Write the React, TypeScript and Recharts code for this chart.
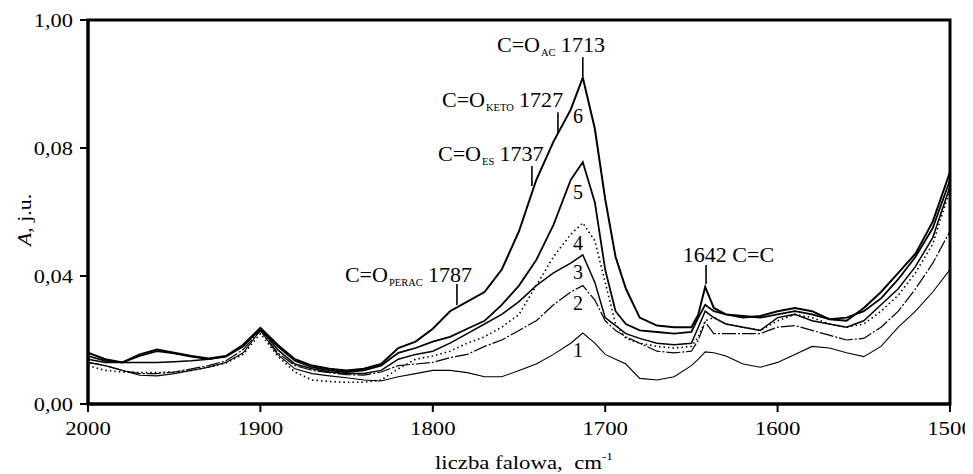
import React from 'react';
import {
  LineChart,
  Line,
  XAxis,
  YAxis,
  ReferenceArea,
  ReferenceLine,
  ReferenceDot,
  Customized,
} from 'recharts';

const SERIF = 'Liberation Serif, Times New Roman, Times, serif';

// wavenumber grid (cm^-1)
const wavenumbers = [
  2000, 1990, 1980, 1970, 1960, 1950, 1940, 1930, 1920, 1910,
  1900, 1890, 1880, 1870, 1860, 1850, 1840, 1830, 1820, 1810,
  1800, 1790, 1780, 1770, 1760, 1750, 1740, 1730, 1720,
  1713, 1706, 1700, 1694, 1688, 1680,
  1670, 1660, 1650,
  1646, 1642, 1637, 1630,
  1620, 1610, 1600, 1590, 1580, 1570, 1560, 1550, 1540, 1530, 1520, 1510, 1500,
];

const spectrum1 = [
  0.013, 0.012, 0.0105, 0.009, 0.0088, 0.0095, 0.0105, 0.0115, 0.013, 0.016,
  0.023, 0.0155, 0.011, 0.0095, 0.0088, 0.0082, 0.0075, 0.0072, 0.0085, 0.0095,
  0.0105, 0.0105, 0.0098, 0.0085, 0.0085, 0.0105, 0.0125, 0.0155, 0.019,
  0.0222, 0.019, 0.0155, 0.014, 0.0125, 0.008,
  0.0075, 0.0085, 0.012,
  0.014, 0.0163, 0.016, 0.015,
  0.0125, 0.0115, 0.013, 0.0155, 0.018, 0.0175, 0.016, 0.0148, 0.018, 0.024, 0.029, 0.035, 0.042,
];

const spectrum2 = [
  0.013, 0.012, 0.0105, 0.0095, 0.0095, 0.01, 0.011, 0.012, 0.0135, 0.017,
  0.023, 0.016, 0.012, 0.0105, 0.0098, 0.0092, 0.009, 0.01, 0.012, 0.0125,
  0.013, 0.0145, 0.0155, 0.018, 0.02, 0.023, 0.026, 0.031, 0.035,
  0.037, 0.0325, 0.026, 0.023, 0.021, 0.019,
  0.0165, 0.016, 0.0165,
  0.02, 0.0256, 0.022, 0.022,
  0.022, 0.022, 0.024, 0.0245, 0.023, 0.0215, 0.02, 0.0205, 0.024, 0.029, 0.036, 0.044, 0.054,
];

const spectrum3 = [
  0.014, 0.013, 0.013, 0.013, 0.013, 0.0132, 0.0135, 0.014, 0.015, 0.018,
  0.0235, 0.017, 0.0125, 0.011, 0.01, 0.0095, 0.0095, 0.0105, 0.014, 0.0155,
  0.0165, 0.019, 0.022, 0.025, 0.028, 0.032, 0.037, 0.041, 0.044,
  0.0466, 0.038, 0.027, 0.0245, 0.022, 0.0205,
  0.019, 0.0185, 0.019,
  0.024, 0.029, 0.027, 0.025,
  0.024, 0.023, 0.027, 0.028, 0.026, 0.025, 0.024, 0.026, 0.031, 0.036, 0.043, 0.052, 0.068,
];

const spectrum4 = [
  0.012, 0.0105, 0.01, 0.0098, 0.0098, 0.01, 0.0105, 0.0115, 0.0128, 0.0155,
  0.022, 0.015, 0.01, 0.0075, 0.007, 0.0068, 0.0068, 0.0075, 0.011, 0.014,
  0.015, 0.0165, 0.019, 0.021, 0.024, 0.028, 0.037, 0.046, 0.053,
  0.0566, 0.051, 0.038, 0.025, 0.0205, 0.019,
  0.018, 0.0175, 0.018,
  0.021, 0.026, 0.027, 0.025,
  0.024, 0.023, 0.026, 0.028, 0.027, 0.025, 0.024, 0.025, 0.029, 0.034, 0.041, 0.05, 0.067,
];

const spectrum5 = [
  0.015, 0.0135, 0.013, 0.015, 0.0165, 0.0158, 0.0148, 0.014, 0.0148, 0.018,
  0.0236, 0.018, 0.0135, 0.0115, 0.0105, 0.01, 0.0105, 0.012, 0.016, 0.0175,
  0.0195, 0.021, 0.0235, 0.026, 0.031, 0.037, 0.045, 0.056, 0.07,
  0.0756, 0.063, 0.042, 0.029, 0.025, 0.023,
  0.0225, 0.022, 0.0225,
  0.027, 0.031, 0.029, 0.028,
  0.0275, 0.027, 0.028, 0.029, 0.028, 0.0265, 0.027, 0.029, 0.033, 0.039, 0.046, 0.055, 0.07,
];

const spectrum6 = [
  0.016, 0.014, 0.013, 0.0155, 0.017, 0.016, 0.015, 0.0142, 0.015, 0.0185,
  0.0238, 0.0185, 0.014, 0.012, 0.011, 0.0105, 0.011, 0.0125, 0.0175, 0.0195,
  0.0235, 0.029, 0.032, 0.035, 0.042, 0.054, 0.07, 0.082, 0.092,
  0.102, 0.086, 0.064, 0.046, 0.036, 0.027,
  0.0245, 0.024, 0.024,
  0.028, 0.0366, 0.03, 0.028,
  0.027, 0.0275, 0.029, 0.03, 0.029, 0.0265, 0.026, 0.03, 0.035, 0.041, 0.047, 0.057, 0.0725,
];

const xTicks = [2000, 1900, 1800, 1700, 1600, 1500];
const yTicks = [0, 0.04, 0.08, 0.12];
const yTickLabels = ['0,00', '0,04', '0,08', '1,00'];

// band annotations: text anchor (x, y) and marker segment
const bandLabels = [
  { main: 'C=O', sub: 'AC', num: '1713', x: 1762.8, y: 0.11, mx: 1713, my1: 0.1084, my2: 0.1025 },
  { main: 'C=O', sub: 'KETO', num: '1727', x: 1794.7, y: 0.0928, mx: 1727.4, my1: 0.0912, my2: 0.0847 },
  { main: 'C=O', sub: 'ES', num: '1737', x: 1797, y: 0.0759, mx: 1742.5, my1: 0.0744, my2: 0.0681 },
  { main: 'C=O', sub: 'PERAC', num: '1787', x: 1851, y: 0.0381, mx: 1786, my1: 0.0375, my2: 0.0309 },
];
const ccLabel = { text: '1642 C=C', x: 1655, y: 0.0444, mx: 1641.5, my1: 0.0434, my2: 0.0375 };

const curveNames = ['1', '2', '3', '4', '5', '6'];
const curveNameY = [0.0169, 0.0316, 0.0413, 0.0503, 0.0662, 0.09];
const curveNameX = 1715.8;

const data = wavenumbers.map((w, i) => ({
  w,
  s1: spectrum1[i],
  s2: spectrum2[i],
  s3: spectrum3[i],
  s4: spectrum4[i],
  s5: spectrum5[i],
  s6: spectrum6[i],
}));

const XTick = (props: any) => {
  const { x, y, payload } = props;
  return (
    <g transform={`translate(${x},${y})`}>
      <text
        x={0}
        y={0}
        dy="0.71em"
        textAnchor="middle"
        fontFamily={SERIF}
        fontSize={19}
        fill="#000"
        transform="scale(1.2,1)"
      >
        {payload.value}
      </text>
    </g>
  );
};

const YTick = (props: any) => {
  const { x, y, payload } = props;
  const idx = yTicks.findIndex((t) => Math.abs(t - payload.value) < 1e-9);
  const label = idx >= 0 ? yTickLabels[idx] : String(payload.value);
  return (
    <g transform={`translate(${x},${y})`}>
      <text
        x={0}
        y={0}
        dy="0.355em"
        textAnchor="end"
        fontFamily={SERIF}
        fontSize={19}
        fill="#000"
        transform="scale(1.18,1)"
      >
        {label}
      </text>
    </g>
  );
};

const AxisTitles = () => (
  <g>
    <text
      transform="translate(16,212) rotate(-90) scale(1.15,1)"
      textAnchor="middle"
      dy="0.35em"
      fontFamily={SERIF}
      fontSize={19}
      fill="#000"
    >
      <tspan fontStyle="italic">A</tspan>
      <tspan>, j.u.</tspan>
    </text>
    <text
      transform="translate(427,461) scale(1.2,1)"
      x={0}
      y={0}
      fontFamily={SERIF}
      fontSize={19}
      fill="#000"
      style={{ whiteSpace: 'pre' }}
    >
      <tspan>liczba falowa,  cm</tspan>
      <tspan fontSize={11} dy={-9}>-1</tspan>
    </text>
  </g>
);

export default function App() {
  return (
    <LineChart
      width={965}
      height={466}
      data={data}
      margin={{ top: 12, right: 23, bottom: 0, left: 0 }}
    >
      <XAxis
        dataKey="w"
        type="number"
        domain={[1500, 2000]}
        reversed
        ticks={xTicks}
        interval={0}
        height={70}
        tickSize={8}
        tickMargin={10}
        axisLine={{ stroke: '#000', strokeWidth: 3 }}
        tickLine={{ stroke: '#000', strokeWidth: 2 }}
        tick={(p: any) => <XTick {...p} />}
      />
      <YAxis
        type="number"
        domain={[0, 0.12]}
        ticks={yTicks}
        interval={0}
        width={80}
        tickSize={8}
        tickMargin={7}
        axisLine={{ stroke: '#000', strokeWidth: 3 }}
        tickLine={{ stroke: '#000', strokeWidth: 2 }}
        tick={(p: any) => <YTick {...p} />}
      />
      <ReferenceArea
        x1={2000}
        x2={1500}
        y1={0}
        y2={0.12}
        fill="none"
        fillOpacity={0}
        stroke="#000"
        strokeWidth={3}
        ifOverflow="visible"
      />
      <Line type="linear" dataKey="s1" stroke="#000" strokeWidth={1.1} dot={false} isAnimationActive={false} />
      <Line type="linear" dataKey="s2" stroke="#000" strokeWidth={1.2} strokeDasharray="14 2 2 2" dot={false} isAnimationActive={false} />
      <Line type="linear" dataKey="s3" stroke="#000" strokeWidth={1.5} dot={false} isAnimationActive={false} />
      <Line type="linear" dataKey="s4" stroke="#000" strokeWidth={1.6} strokeDasharray="1.5 3" dot={false} isAnimationActive={false} />
      <Line type="linear" dataKey="s5" stroke="#000" strokeWidth={1.8} dot={false} isAnimationActive={false} />
      <Line type="linear" dataKey="s6" stroke="#000" strokeWidth={2} dot={false} isAnimationActive={false} />

      {bandLabels.map((b, i) => (
        <ReferenceLine
          key={`bl${i}`}
          segment={[
            { x: b.mx, y: b.my1 },
            { x: b.mx, y: b.my2 },
          ]}
          stroke="#000"
          strokeWidth={1.6}
        />
      ))}
      <ReferenceLine
        segment={[
          { x: ccLabel.mx, y: ccLabel.my1 },
          { x: ccLabel.mx, y: ccLabel.my2 },
        ]}
        stroke="#000"
        strokeWidth={1.6}
      />
      {bandLabels.map((b, i) => (
        <ReferenceDot
          key={`bt${i}`}
          x={b.x}
          y={b.y}
          r={0}
          shape={(p: any) => (
            <text
              transform={`translate(${p.cx},${p.cy}) scale(1.05,1)`}
              fontFamily={SERIF}
              fontSize={21}
              fill="#000"
            >
              <tspan>{b.main}</tspan>
              <tspan fontSize={10} dy={4} dx={1}>{b.sub}</tspan>
              <tspan dy={-4} dx={5}>{b.num}</tspan>
            </text>
          )}
        />
      ))}
      <ReferenceDot
        x={ccLabel.x}
        y={ccLabel.y}
        r={0}
        shape={(p: any) => (
          <text
            transform={`translate(${p.cx},${p.cy}) scale(1.05,1)`}
            fontFamily={SERIF}
            fontSize={21}
            fill="#000"
          >
            {ccLabel.text}
          </text>
        )}
      />
      {curveNames.map((n, i) => (
        <ReferenceDot
          key={`cn${i}`}
          x={curveNameX}
          y={curveNameY[i]}
          r={0}
          shape={(p: any) => (
            <text
              transform={`translate(${p.cx},${p.cy})`}
              textAnchor="middle"
              dy="0.35em"
              fontFamily={SERIF}
              fontSize={20}
              fill="#000"
            >
              {n}
            </text>
          )}
        />
      ))}
      <Customized component={AxisTitles} />
    </LineChart>
  );
}
